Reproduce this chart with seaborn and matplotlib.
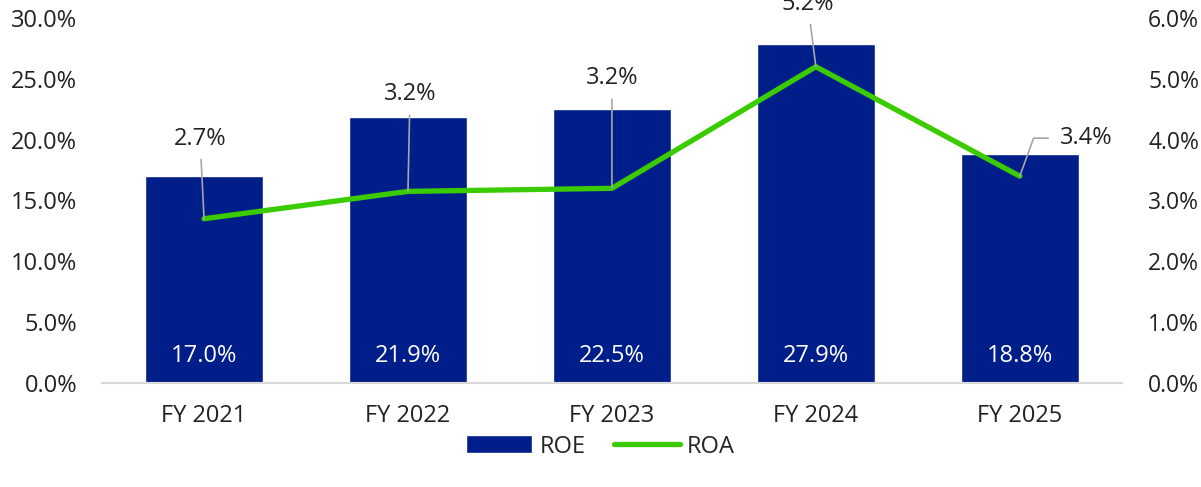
import matplotlib
matplotlib.use("Agg")
import matplotlib.pyplot as plt
from matplotlib.patches import Patch
from matplotlib.lines import Line2D
from matplotlib.ticker import FuncFormatter
import seaborn as sns

# Data
years = ["FY 2021", "FY 2022", "FY 2023", "FY 2024", "FY 2025"]
roe = [17.0, 21.9, 22.5, 27.9, 18.8]
roa = [2.7, 3.15, 3.2, 5.2, 3.4]
roa_labels = ["2.7%", "3.2%", "3.2%", "5.2%", "3.4%"]

BAR_COLOR = "#001E8A"
LINE_COLOR = "#3ACC00"
LEADER_COLOR = "#A6A6A6"
FS = 17

sns.set_theme(style="white")
plt.rcParams["font.family"] = ["Open Sans", "DejaVu Sans"]

fig = plt.figure(figsize=(12.01, 4.87), dpi=100)
ax = fig.add_axes([0.085, 0.2136, 0.849, 0.7494])

sns.barplot(x=years, y=roe, color=BAR_COLOR, width=0.58, ax=ax, saturation=1)
ax.set_ylim(0, 30)
ax.set_xlim(-0.5, 4.5)
ax.set_yticks([0, 5, 10, 15, 20, 25, 30])
ax.yaxis.set_major_formatter(FuncFormatter(lambda v, _: f"{v:.1f}%"))
ax.tick_params(axis="both", length=0, labelsize=FS, colors="#222222")
ax.tick_params(axis="x", pad=15)
ax.tick_params(axis="y", pad=18)

# ROE values inside the bars
for i, v in enumerate(roe):
    ax.text(i, 2.2, f"{v:.1f}%", color="white", ha="center", va="center", fontsize=FS)

ax2 = ax.twinx()
sns.lineplot(x=list(range(len(years))), y=roa, color=LINE_COLOR, linewidth=3.8,
             ax=ax2, sort=False)
ax2.set_ylim(0, 6)
ax2.set_xlim(-0.5, 4.5)
ax2.set_yticks([0, 1, 2, 3, 4, 5, 6])
ax2.yaxis.set_major_formatter(FuncFormatter(lambda v, _: f"{v:.1f}%"))
ax2.tick_params(axis="y", length=0, labelsize=16.5, colors="#222222", pad=19)
ax2.set_ylabel("")

# ROA labels with leader lines (offsets in pixels)
label_offsets = [(-4, 80), (2, 97), (0, 110), (-8, 63), (40, 38)]
for i, (v, lab) in enumerate(zip(roa, roa_labels)):
    dx, dy = label_offsets[i]
    if i == 4:
        props = dict(arrowstyle="-", color=LEADER_COLOR, lw=1.2, shrinkA=6, shrinkB=0,
                     relpos=(0, 0.5), connectionstyle="angle,angleA=0,angleB=70,rad=0")
        ha = "left"
    else:
        props = dict(arrowstyle="-", color=LEADER_COLOR, lw=1.2, shrinkA=4, shrinkB=0)
        ha = "center"
    ax2.annotate(lab, xy=(i, v), xytext=(dx, dy),
                 textcoords="offset pixels", ha=ha, va="center", fontsize=FS,
                 color="#222222", annotation_clip=False, arrowprops=props)

for a in (ax, ax2):
    for side in ("top", "left", "right"):
        a.spines[side].set_visible(False)
    a.spines["bottom"].set_color("#D9D9D9")
    a.spines["bottom"].set_linewidth(1.5)
    a.grid(False)

handles = [Patch(facecolor=BAR_COLOR, label="ROE"),
           Line2D([0], [0], color=LINE_COLOR, lw=3.8, solid_capstyle="round", label="ROA")]
fig.legend(handles=handles, loc="center", bbox_to_anchor=(0.5, 0.083), ncol=2,
           frameon=False, fontsize=FS, handlelength=2.8, handleheight=0.8,
           columnspacing=1.2, handletextpad=0.3)

fig.savefig("out.png", dpi=100)
plt.close(fig)
